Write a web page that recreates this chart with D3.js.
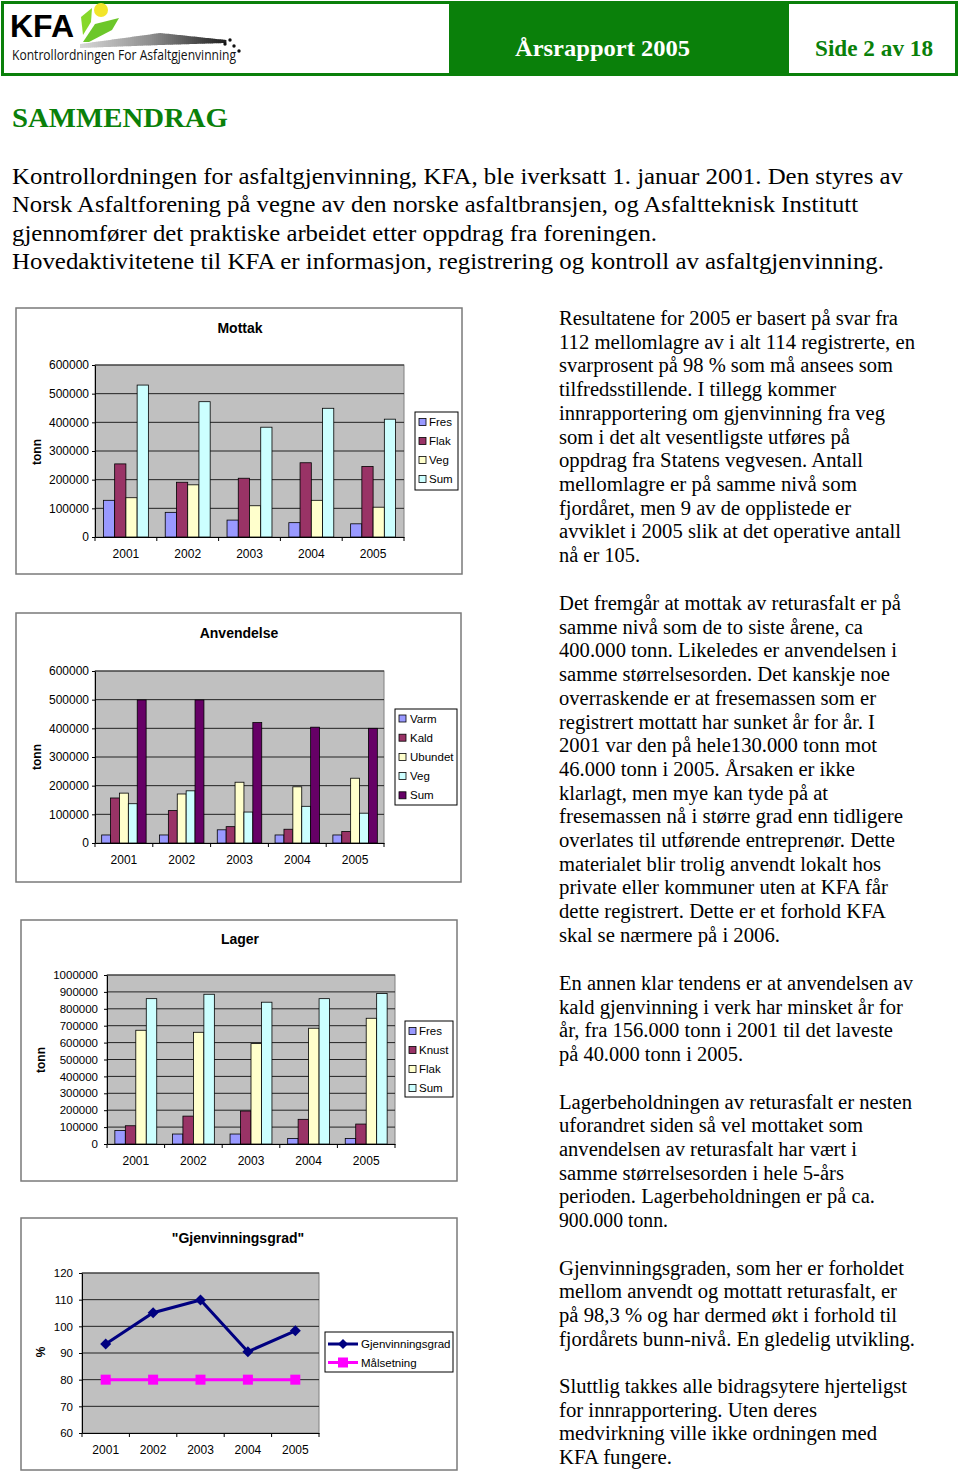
<!DOCTYPE html>
<html><head><meta charset="utf-8">
<script src="https://cdn.jsdelivr.net/npm/d3@7"></script>
<style>body{margin:0;background:#fff}svg{display:block}</style>
</head><body>
<svg id="page" width="960" height="1471"></svg>
<script>
// ---------------- DATA ----------------
const years = ["2001", "2002", "2003", "2004", "2005"];

const mottakNames = ["Fres", "Flak", "Veg", "Sum"];
const mottakFres = [128000, 86000, 59000, 50000, 46000];
const mottakFlak = [255000, 191000, 205000, 259000, 246000];
const mottakVeg  = [137000, 182000, 109000, 128000, 104000];
const mottakSum  = [530000, 472000, 383000, 449000, 411000];

const anvNames = ["Varm", "Kald", "Ubundet", "Veg", "Sum"];
const anvVarm    = [28000, 28000, 46000, 28000, 28000];
const anvKald    = [157000, 113000, 57000, 48000, 40000];
const anvUbundet = [174000, 171000, 212000, 196000, 226000];
const anvVeg     = [137000, 182000, 108000, 128000, 104000];
const anvSum     = [499000, 499000, 420000, 404000, 400000];

const lagerNames = ["Fres", "Knust", "Flak", "Sum"];
const lagerFres  = [80000, 59000, 59000, 33000, 33000];
const lagerKnust = [108000, 165000, 195000, 146000, 118000];
const lagerFlak  = [673000, 661000, 594000, 685000, 744000];
const lagerSum   = [860000, 886000, 839000, 860000, 890000];

const gradNames = ["Gjenvinningsgrad", "Målsetning"];
const gjenvinningsgrad = [93.4, 105.1, 109.9, 90.5, 98.3];
const maalsetning      = [80, 80, 80, 80, 80];

const tonnTicks600 = [0, 100000, 200000, 300000, 400000, 500000, 600000];
const tonnTicks1000 = [0, 100000, 200000, 300000, 400000, 500000, 600000, 700000, 800000, 900000, 1000000];
const pctTicks = [60, 70, 80, 90, 100, 110, 120];

const introLines = [
  "Kontrollordningen for asfaltgjenvinning, KFA, ble iverksatt 1. januar 2001. Den styres av",
  "Norsk Asfaltforening på vegne av den norske asfaltbransjen, og Asfaltteknisk Institutt",
  "gjennomfører det praktiske arbeidet etter oppdrag fra foreningen.",
  "Hovedaktivitetene til KFA er informasjon, registrering og kontroll av asfaltgjenvinning."
];
const para1 = [
  "Resultatene for 2005 er basert på svar fra",
  "112 mellomlagre av i alt 114 registrerte, en",
  "svarprosent på 98 % som må ansees som",
  "tilfredsstillende. I tillegg kommer",
  "innrapportering om gjenvinning fra veg",
  "som i det alt vesentligste utføres på",
  "oppdrag fra Statens vegvesen. Antall",
  "mellomlagre er  på samme nivå som",
  "fjordåret, men 9 av de opplistede er",
  "avviklet i 2005 slik at det operative antall",
  "nå er 105."
];
const para2 = [
  "Det fremgår at mottak av returasfalt er på",
  "samme nivå som de to siste årene, ca",
  "400.000 tonn. Likeledes er anvendelsen i",
  "samme størrelsesorden. Det kanskje noe",
  "overraskende er at fresemassen som er",
  "registrert mottatt har sunket år for år. I",
  "2001 var den på hele130.000 tonn mot",
  "46.000 tonn i 2005. Årsaken er ikke",
  "klarlagt, men mye kan tyde på at",
  "fresemassen  nå i større grad enn tidligere",
  "overlates til utførende entreprenør. Dette",
  "materialet blir trolig anvendt lokalt hos",
  "private eller kommuner uten at KFA får",
  "dette registrert. Dette er et forhold KFA",
  "skal se nærmere på i 2006."
];
const para3 = [
  "En annen klar tendens er at anvendelsen av",
  "kald gjenvinning i verk har minsket år for",
  "år, fra 156.000 tonn i 2001 til det laveste",
  "på 40.000 tonn i 2005."
];
const para4 = [
  "Lagerbeholdningen av returasfalt er nesten",
  "uforandret siden så vel mottaket som",
  "anvendelsen av returasfalt har vært i",
  "samme størrelsesorden i hele 5-års",
  "perioden. Lagerbeholdningen er på ca.",
  "900.000 tonn."
];
const para5 = [
  "Gjenvinningsgraden, som her er forholdet",
  "mellom anvendt og mottatt returasfalt, er",
  "på 98,3 % og har dermed økt i forhold til",
  "fjordårets bunn-nivå. En gledelig utvikling."
];
const para6 = [
  "Sluttlig takkes alle bidragsytere hjerteligst",
  "for innrapportering. Uten deres",
  "medvirkning ville ikke ordningen med",
  "KFA fungere."
];

// ---------------- LAYOUT ----------------
const SERIF = "'Liberation Serif','Times New Roman',serif";
const SANS = "'Liberation Sans',Arial,sans-serif";
const GREEN = "#0a800a";
const svg = d3.select("#page");

// Header
svg.append("rect").attr("x", 2.5).attr("y", 2.5).attr("width", 954).attr("height", 72)
  .attr("fill", "#fff").attr("stroke", GREEN).attr("stroke-width", 3);
svg.append("rect").attr("x", 449).attr("y", 2.5).attr("width", 340).attr("height", 72).attr("fill", GREEN);
svg.append("text").attr("x", 515).attr("y", 56).attr("font-family", SERIF).attr("font-weight", "bold")
  .attr("font-size", 24).attr("fill", "#fff").attr("textLength", 175).attr("lengthAdjust", "spacingAndGlyphs")
  .text("Årsrapport 2005");
svg.append("text").attr("x", 815).attr("y", 56).attr("font-family", SERIF).attr("font-weight", "bold")
  .attr("font-size", 23).attr("fill", GREEN).attr("textLength", 118).attr("lengthAdjust", "spacingAndGlyphs")
  .text("Side 2 av 18");

// Logo (decorative)
const logo = svg.append("g");
const swTop = d3.scaleLinear().domain([80, 160, 226]).range([44, 33, 40]);
const swBot = d3.scaleLinear().domain([80, 160, 226]).range([48, 45, 43]);
const swCol = d3.scaleLinear().domain([80, 150, 226]).range(["#d6d6d6", "#8e8e8e", "#1e1e1e"]);
logo.selectAll(".sw").data(d3.range(80, 226, 2)).join("path")
  .attr("d", x0 => `M${x0},${swTop(x0)}L${x0 + 2.4},${swTop(x0 + 2)}L${x0 + 2.4},${swBot(x0 + 2)}L${x0},${swBot(x0)}Z`)
  .attr("fill", x0 => swCol(x0));
logo.append("circle").attr("cx", 101).attr("cy", 10).attr("r", 7).attr("fill", "#f2e52a");
logo.append("path").attr("d", "M81,17 L92,8 L91,22 L83,35 Z").attr("fill", "#86d82a");
logo.append("path").attr("d", "M83,42 L95,24 L119,18 L112,30 L89,42 Z").attr("fill", "#6cc72a");
[[225, 44], [230, 40], [234, 46], [239, 51]].forEach(p =>
  logo.append("circle").attr("cx", p[0]).attr("cy", p[1]).attr("r", 1.7).attr("fill", "#111"));
logo.append("text").attr("x", 10).attr("y", 37).attr("font-family", SANS).attr("font-weight", "bold")
  .attr("font-size", 31).attr("fill", "#000").attr("textLength", 64).attr("lengthAdjust", "spacingAndGlyphs").text("KFA");
logo.append("text").attr("x", 12).attr("y", 60).attr("font-family", "'Open Sans',sans-serif")
  .attr("font-size", 14).attr("fill", "#111").attr("textLength", 224).attr("lengthAdjust", "spacingAndGlyphs")
  .text("Kontrollordningen For Asfaltgjenvinning");

// Title + intro
svg.append("text").attr("x", 12).attr("y", 127).attr("font-family", SERIF).attr("font-weight", "bold")
  .attr("font-size", 28).attr("fill", GREEN).attr("textLength", 216).attr("lengthAdjust", "spacingAndGlyphs")
  .text("SAMMENDRAG");
const introWidths = [891, 846, 645, 872];
introLines.forEach((l, i) => svg.append("text").attr("x", 12).attr("y", 184 + i * 28.3)
  .attr("font-family", SERIF).attr("font-size", 23).attr("fill", "#000")
  .attr("textLength", introWidths[i]).attr("lengthAdjust", "spacingAndGlyphs").text(l));

// Right column
function paragraph(lines, y0, ends) {
  lines.forEach((l, i) => svg.append("text").attr("x", 559).attr("y", y0 + i * 23.7)
    .attr("font-family", SERIF).attr("font-size", 20).attr("fill", "#000")
    .attr("textLength", ends[i] - 559).attr("lengthAdjust", "spacingAndGlyphs").text(l));
}
paragraph(para1, 325, [898, 915, 893, 836, 885, 850, 863, 857, 851, 901, 640]);
paragraph(para2, 610, [901, 863, 897, 890, 876, 875, 877, 855, 828, 903, 895, 881, 888, 886, 780]);
paragraph(para3, 990, [913, 903, 893, 743]);
paragraph(para4, 1108.5, [912, 863, 857, 844, 875, 668]);
paragraph(para5, 1274.5, [904, 897, 897, 915]);
paragraph(para6, 1393, [907, 817, 877, 672]);

// --------------- CHART HELPERS ---------------
function frame(g, f) {
  g.append("rect").attr("x", f[0]).attr("y", f[1]).attr("width", f[2]).attr("height", f[3])
    .attr("fill", "#fff").attr("stroke", "#7a7a7a").attr("stroke-width", 1.5);
}
function plotBase(g, cfg, y, ticks) {
  const [px, py, pw, ph] = cfg.plot;
  g.append("rect").attr("x", px).attr("y", py).attr("width", pw).attr("height", ph)
    .attr("fill", "#C0C0C0").attr("stroke", "#808080").attr("stroke-width", 1);
  g.selectAll(".grid").data(ticks.slice(1)).join("line")
    .attr("x1", px).attr("x2", px + pw).attr("y1", d => y(d)).attr("y2", d => y(d))
    .attr("stroke", "#222").attr("stroke-width", 1);
}
function titles(g, cfg) {
  g.append("text").attr("x", cfg.titleX).attr("y", cfg.titleY).attr("text-anchor", "middle")
    .attr("font-family", SANS).attr("font-weight", "bold").attr("font-size", 14).text(cfg.title);
  g.append("text").attr("transform", `translate(${cfg.yLab[0]},${cfg.yLab[1]}) rotate(-90)`)
    .attr("text-anchor", "middle").attr("dy", "0.35em")
    .attr("font-family", SANS).attr("font-weight", "bold").attr("font-size", 12).text(cfg.yLabel);
}
function axes(g, cfg, x, y, ticks, fmt) {
  const [px, py, pw, ph] = cfg.plot;
  const ya = g.append("g").attr("transform", `translate(${px},0)`)
    .call(d3.axisLeft(y).tickValues(ticks).tickSize(3).tickSizeOuter(0).tickPadding(cfg.tickPad).tickFormat(fmt));
  ya.attr("font-family", SANS).attr("font-size", cfg.tickFont);
  ya.selectAll("path,line").attr("stroke", "#000");
  ya.selectAll("text").attr("fill", "#000");
  const xa = g.append("g").attr("transform", `translate(0,${py + ph})`)
    .call(d3.axisBottom(x).tickSize(0).tickSizeOuter(0).tickPadding(cfg.xPad));
  xa.attr("font-family", SANS).attr("font-size", 12);
  xa.select("path").attr("stroke", "#000");
  xa.selectAll("text").attr("fill", "#000");
  const bounds = years.map(d => x(d) - (x.step() - x.bandwidth()) / 2).concat([px + pw]);
  g.selectAll(".xt").data(bounds).join("line")
    .attr("x1", d => d).attr("x2", d => d).attr("y1", py + ph).attr("y2", py + ph + 4)
    .attr("stroke", "#000");
}
function legendBox(g, lg, names) {
  g.append("rect").attr("x", lg.box[0]).attr("y", lg.box[1]).attr("width", lg.box[2]).attr("height", lg.box[3])
    .attr("fill", "#fff").attr("stroke", "#000").attr("stroke-width", 1);
  const items = g.selectAll(".lg").data(names).join("g")
    .attr("transform", (d, i) => `translate(0,${lg.y0 + i * lg.dy})`);
  items.append("text").attr("x", lg.tx).attr("y", 0).attr("dy", "0.35em")
    .attr("font-family", SANS).attr("font-size", 11.5).attr("fill", "#000").text(d => d);
  return items;
}

function barChart(cfg) {
  const g = svg.append("g");
  frame(g, cfg.frame);
  const [px, py, pw, ph] = cfg.plot;
  const y = d3.scaleLinear().domain([0, cfg.ticks[cfg.ticks.length - 1]]).range([py + ph, py]);
  const x = d3.scaleBand().domain(years).range([px, px + pw]).padding(0);
  plotBase(g, cfg, y, cfg.ticks);
  const n = cfg.names.length;
  const gw = x.bandwidth() * n / (n + 1.5);
  const xs = d3.scaleBand().domain(cfg.names).range([0, gw]);
  cfg.names.forEach((name, si) => {
    g.append("g").selectAll("rect").data(cfg.values[si]).join("rect")
      .attr("x", (d, i) => x(years[i]) + (x.bandwidth() - gw) / 2 + xs(name))
      .attr("y", d => y(d)).attr("width", xs.bandwidth()).attr("height", d => y(0) - y(d))
      .attr("fill", cfg.colors[si]).attr("stroke", "#000").attr("stroke-width", 0.8);
  });
  axes(g, cfg, x, y, cfg.ticks, d3.format("d"));
  titles(g, cfg);
  const items = legendBox(g, cfg.legend, cfg.names);
  items.append("rect").attr("x", cfg.legend.sx).attr("y", -3.5).attr("width", 7).attr("height", 7)
    .attr("fill", (d, i) => cfg.colors[i]).attr("stroke", "#000").attr("stroke-width", 0.8);
}

barChart({
  frame: [16, 308, 446, 266], plot: [95, 365, 309, 172], ticks: tonnTicks600,
  names: mottakNames, values: [mottakFres, mottakFlak, mottakVeg, mottakSum],
  colors: ["#9999FF", "#993366", "#FFFFCC", "#CCFFFF"],
  title: "Mottak", titleX: 240, titleY: 333, yLabel: "tonn", yLab: [37, 452],
  tickPad: 3, tickFont: 12, xPad: 12,
  legend: { box: [415, 412, 43, 78], y0: 422, dy: 19, sx: 419, tx: 429 }
});
barChart({
  frame: [16, 613, 445, 269], plot: [95, 671, 289, 172], ticks: tonnTicks600,
  names: anvNames, values: [anvVarm, anvKald, anvUbundet, anvVeg, anvSum],
  colors: ["#9999FF", "#993366", "#FFFFCC", "#CCFFFF", "#660066"],
  title: "Anvendelse", titleX: 239, titleY: 638, yLabel: "tonn", yLab: [37, 757],
  tickPad: 3, tickFont: 12, xPad: 12,
  legend: { box: [395, 709, 62, 96], y0: 718.5, dy: 19.2, sx: 399, tx: 410 }
});
barChart({
  frame: [21, 920, 436, 261], plot: [107, 975, 288, 169], ticks: tonnTicks1000,
  names: lagerNames, values: [lagerFres, lagerKnust, lagerFlak, lagerSum],
  colors: ["#9999FF", "#993366", "#FFFFCC", "#CCFFFF"],
  title: "Lager", titleX: 240, titleY: 944, yLabel: "tonn", yLab: [41, 1060],
  tickPad: 6, tickFont: 11.5, xPad: 12,
  legend: { box: [405, 1021, 48, 76], y0: 1031, dy: 19, sx: 409, tx: 419 }
});

// Line chart
(function lineChart() {
  const cfg = {
    frame: [21, 1218, 436, 252], plot: [82, 1273, 237, 160],
    title: "\"Gjenvinningsgrad\"", titleX: 238, titleY: 1243, yLabel: "%", yLab: [41, 1352],
    tickPad: 6, tickFont: 11.5, xPad: 12
  };
  const g = svg.append("g");
  frame(g, cfg.frame);
  const [px, py, pw, ph] = cfg.plot;
  const y = d3.scaleLinear().domain([60, 120]).range([py + ph, py]);
  const x = d3.scaleBand().domain(years).range([px, px + pw]).padding(0);
  plotBase(g, cfg, y, pctTicks);
  const cx = d => x(d) + x.bandwidth() / 2;
  const line = d3.line().x((d, i) => cx(years[i])).y(d => y(d));
  const diamond = "M0,-5.5L5.5,0L0,5.5L-5.5,0Z";
  g.append("path").datum(maalsetning).attr("d", line).attr("fill", "none").attr("stroke", "#FF00FF").attr("stroke-width", 3);
  g.selectAll(".sq").data(maalsetning).join("rect")
    .attr("x", (d, i) => cx(years[i]) - 5).attr("y", d => y(d) - 5).attr("width", 10).attr("height", 10).attr("fill", "#FF00FF");
  g.append("path").datum(gjenvinningsgrad).attr("d", line).attr("fill", "none").attr("stroke", "#000080").attr("stroke-width", 3);
  g.selectAll(".dm").data(gjenvinningsgrad).join("path")
    .attr("transform", (d, i) => `translate(${cx(years[i])},${y(d)})`).attr("d", diamond).attr("fill", "#000080");
  axes(g, cfg, x, y, pctTicks, d3.format("d"));
  titles(g, cfg);
  const lg = { box: [325, 1332, 128, 40], y0: 1344, dy: 18.5, tx: 361 };
  const items = legendBox(g, lg, gradNames);
  items.append("line").attr("x1", 328).attr("x2", 358).attr("y1", 0).attr("y2", 0)
    .attr("stroke", (d, i) => i === 0 ? "#000080" : "#FF00FF").attr("stroke-width", 3);
  items.filter((d, i) => i === 0).append("path").attr("transform", "translate(343,0)").attr("d", "M0,-5L5,0L0,5L-5,0Z").attr("fill", "#000080");
  items.filter((d, i) => i === 1).append("rect").attr("x", 338).attr("y", -5).attr("width", 10).attr("height", 10).attr("fill", "#FF00FF");
})();
</script>
</body></html>
